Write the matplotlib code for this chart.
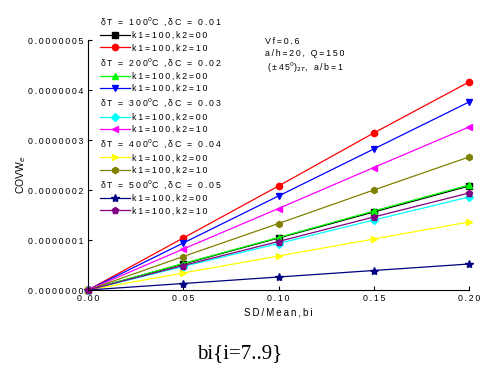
import matplotlib
matplotlib.use("Agg")
import matplotlib.pyplot as plt
import numpy as np
from matplotlib.lines import Line2D

plt.rcParams['font.family'] = ['Liberation Sans', 'DejaVu Sans']

x = [0.0, 0.05, 0.10, 0.15, 0.20]

# values in units of 1e-7
s100_k00 = [0.0, 0.52, 1.04, 1.56, 2.08]
s100_k10 = [0.0, 1.04, 2.08, 3.14, 4.16]
s200_k00 = [0.0, 0.53, 1.05, 1.58, 2.10]
s200_k10 = [0.0, 0.94, 1.88, 2.82, 3.76]
s300_k00 = [0.0, 0.47, 0.93, 1.40, 1.86]
s300_k10 = [0.0, 0.82, 1.63, 2.45, 3.26]
s400_k00 = [0.0, 0.34, 0.68, 1.02, 1.36]
s400_k10 = [0.0, 0.67, 1.33, 2.00, 2.66]
s500_k00 = [0.0, 0.13, 0.26, 0.39, 0.52]
s500_k10 = [0.0, 0.49, 0.97, 1.46, 1.94]

headers = [r"δT = 100$^{0}$C ,δC = 0.01", r"δT = 200$^{0}$C ,δC = 0.02",
           r"δT = 300$^{0}$C ,δC = 0.03", r"δT = 400$^{0}$C ,δC = 0.04",
           r"δT = 500$^{0}$C ,δC = 0.05"]
labels = ["k1=100,k2=00", "k1=100,k2=10"]
xticklabels = ["0.00", "0.05", "0.10", "0.15", "0.20"]
yticklabels = ["0.0000000", "0.0000001", "0.0000002", "0.0000003", "0.0000004", "0.0000005"]

TS = "\u2009"


def spaced(s):
    parts = s.split("$")
    out = []
    for i, p in enumerate(parts):
        if i % 2 == 0:
            out.append(TS.join(p))
        else:
            out.append("$" + p + "$")
    return "".join(out)


series = [
    (s100_k00, 'black', 's'), (s100_k10, 'red', 'o'),
    (s200_k00, '#00ff00', '^'), (s200_k10, 'blue', 'v'),
    (s300_k00, 'cyan', 'D'), (s300_k10, 'magenta', '<'),
    (s400_k00, 'yellow', '>'), (s400_k10, '#808000', 'h'),
    (s500_k00, '#000080', '*'), (s500_k10, '#800080', 'p'),
]

fig = plt.figure(figsize=(4.95, 3.75), dpi=100)
ax = fig.add_axes([88/495, 1-290/375, (469-88)/495, (290-40)/375])

handles = []
leg_labels = []
header_idx = []
for i, (vals, col, mk) in enumerate(series):
    ms = 6 if mk == '*' else (3.6 if mk == 'D' else 4.5)
    ln, = ax.plot(x, np.array(vals) * 1e-7, color=col, marker=mk, markersize=ms,
                  linewidth=0.9, markeredgecolor=col, clip_on=False)
    if i % 2 == 0:
        header_idx.append(len(handles))
        handles.append(Line2D([], [], linestyle='none'))
        leg_labels.append(spaced(headers[i // 2]))
    handles.append(ln)
    leg_labels.append(spaced(labels[i % 2]))

ax.set_xlim(0, 0.20)
ax.set_ylim(0, 5e-7)
ax.set_xticks([0.0, 0.05, 0.10, 0.15, 0.20])
ax.set_yticks(np.arange(6) * 1e-7)
ax.set_xticklabels([spaced(t) for t in xticklabels])
ax.set_yticklabels([spaced(t) for t in yticklabels])
ax.tick_params(labelsize=6.3, direction='in', length=3, pad=3)
for sp in ['top', 'right']:
    ax.spines[sp].set_visible(False)
ax.set_xlabel(spaced("SD/Mean,bi"), fontsize=7, labelpad=3)
ax.set_ylabel(r"COVW$_e$", fontsize=7.5)
ax.yaxis.set_label_coords((28 - 88) / 381, 0.46)

leg = ax.legend(handles, leg_labels, loc='upper left', bbox_to_anchor=(12/381, 1.1),
                frameon=False, fontsize=6.3, handlelength=3.4, handletextpad=0.3,
                labelspacing=0.38, borderpad=0, borderaxespad=0)
# remove handle area for header rows
try:
    column = leg._legend_handle_box.get_children()[0]
    rows = column.get_children()
    for k in header_idx:
        ch = rows[k].get_children()
        rows[k]._children = ch[-1:]
except Exception:
    pass

fig.text(265/495, 1-42/375, spaced("Vf=0.6"), fontsize=6.3, va='center')
fig.text(265/495, 1-54/375, spaced("a/h=20, Q=150"), fontsize=6.3, va='center')
fig.text(267/495, 1-68/375, spaced(r"(±45$^{0}$)$_{2T}$, a/b=1"), fontsize=6.3, va='center')

fig.text(240/495, 1-354/375, "bi{i=7..9}", family='Liberation Serif', fontsize=15,
         ha='center', va='center')

fig.savefig("out.png", dpi=100)
